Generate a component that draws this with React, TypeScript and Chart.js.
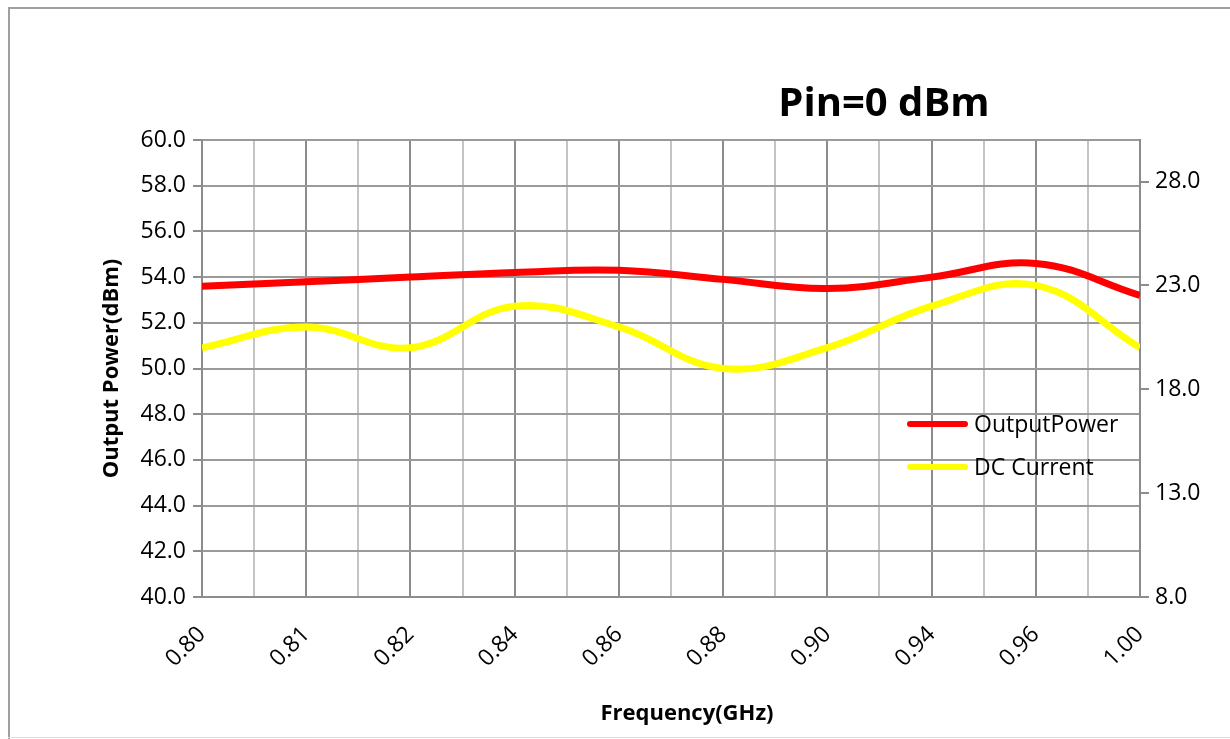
import React, { useEffect, useRef } from "react";
import { Chart, registerables } from "chart.js";

Chart.register(...registerables);

const freqLabels = ["0.80", "0.81", "0.82", "0.84", "0.86", "0.88", "0.90", "0.94", "0.96", "1.00"];
const outputPower = [53.6, 53.8, 54.0, 54.2, 54.3, 53.9, 53.5, 54.0, 54.6, 53.2];
const dcCurrent = [20, 21, 20, 22, 21, 19, 20, 22, 23, 20];
const leftTicks = [40, 42, 44, 46, 48, 50, 52, 54, 56, 58, 60];
const rightTicks = [8, 13, 18, 23, 28];
const titleText = "Pin=0 dBm";
const xTitleText = "Frequency(GHz)";

const FONT = "'Open Sans', 'Noto Sans', sans-serif";

export default function App() {
  const ref = useRef<HTMLCanvasElement | null>(null);

  useEffect(() => {
    if (!ref.current) return;

    const framePlugin = {
      id: "frame",
      beforeDraw(chart: any) {
        const { ctx, width, height } = chart;
        ctx.save();
        ctx.fillStyle = "#ffffff";
        ctx.fillRect(0, 0, width, height);
        ctx.strokeStyle = "#a0a0a0";
        ctx.lineWidth = 2;
        ctx.beginPath();
        ctx.moveTo(1, height);
        ctx.lineTo(1, 1);
        ctx.lineTo(width, 1);
        ctx.stroke();
        ctx.strokeStyle = "#dddddd";
        ctx.lineWidth = 1;
        ctx.beginPath();
        ctx.moveTo(0, height - 1.5);
        ctx.lineTo(width, height - 1.5);
        ctx.stroke();
        ctx.restore();
      },
    };

    const overlayPlugin = {
      id: "overlay",
      afterDraw(chart: any) {
        const { ctx, chartArea } = chart;
        ctx.save();
        // title
        ctx.fillStyle = "#000000";
        ctx.font = `bold 40px ${FONT}`;
        ctx.textAlign = "center";
        ctx.textBaseline = "middle";
        ctx.fillText(titleText, chartArea.left + (chartArea.right - chartArea.left) * 0.727, chartArea.top - 35);
        // x axis title
        ctx.font = `bold 22px ${FONT}`;
        ctx.fillText(xTitleText, (chartArea.left + chartArea.right) / 2 + 16, chartArea.bottom + 117);
        // legend
        const items = chart.data.datasets;
        const x0 = chartArea.right - 230;
        const yStart = chartArea.top + 284;
        items.forEach((ds: any, i: number) => {
          const y = yStart + i * 43;
          ctx.strokeStyle = ds.borderColor;
          ctx.lineWidth = 6;
          ctx.lineCap = "round";
          ctx.beginPath();
          ctx.moveTo(x0, y);
          ctx.lineTo(x0 + 55, y);
          ctx.stroke();
          ctx.fillStyle = "#000000";
          ctx.font = `23px ${FONT}`;
          ctx.textAlign = "left";
          ctx.textBaseline = "middle";
          ctx.fillText(ds.label, x0 + 64, y + 1);
        });
        ctx.restore();
      },
    };

    const chart = new Chart(ref.current, {
      type: "line",
      data: {
        datasets: [
          {
            label: "OutputPower",
            data: outputPower.map((v, i) => ({ x: i, y: v })),
            borderColor: "#ff0000",
            borderWidth: 7,
            pointRadius: 0,
            tension: 0.4,
            yAxisID: "y",
            fill: false,
          },
          {
            label: "DC Current",
            data: dcCurrent.map((v, i) => ({ x: i, y: v })),
            borderColor: "#ffff00",
            borderWidth: 7,
            pointRadius: 0,
            tension: 0.4,
            yAxisID: "y1",
            fill: false,
          },
        ],
      },
      options: {
        animation: false,
        responsive: true,
        maintainAspectRatio: false,
        layout: { padding: { top: 133, left: 0, right: 0, bottom: 0 } },
        plugins: {
          legend: { display: false },
          title: { display: false },
          tooltip: { enabled: false },
        },
        scales: {
          x: {
            type: "linear",
            min: 0,
            max: freqLabels.length - 1,
            afterBuildTicks(scale: any) {
              const t: any[] = [];
              for (let i = 0; i <= (freqLabels.length - 1) * 2; i++) t.push({ value: i / 2 });
              scale.ticks = t;
            },
            afterFit(scale: any) {
              scale.height = 142;
            },
            ticks: {
              autoSkip: false,
              maxRotation: 45,
              minRotation: 45,
              padding: 18,
              color: "#000000",
              font: { family: FONT, size: 23 },
              callback(value: any) {
                const v = Number(value);
                return Number.isInteger(v) ? freqLabels[v] : "";
              },
            },
            grid: {
              color: (c: any) => (c.index % 2 === 0 ? "#8c8c8c" : "#c4c4c4"),
              lineWidth: 2,
              tickLength: 6,
              tickColor: "rgba(0,0,0,0)",
            },
            border: { display: true, color: "#8c8c8c", width: 2 },
            title: { display: false },
          },
          y: {
            type: "linear",
            position: "left",
            min: 40,
            max: 60,
            afterBuildTicks(scale: any) {
              scale.ticks = leftTicks.map((v) => ({ value: v }));
            },
            afterFit(scale: any) {
              scale.width = 194;
            },
            ticks: {
              padding: 7,
              color: "#000000",
              font: { family: FONT, size: 23 },
              callback: (v: any) => Number(v).toFixed(1),
            },
            grid: {
              color: "#9a9a9a",
              lineWidth: 2,
              tickLength: 9,
              tickColor: "#8c8c8c",
            },
            border: { display: true, color: "#8c8c8c", width: 2 },
            title: {
              display: true,
              text: "Output Power(dBm)",
              color: "#000000",
              font: { family: FONT, size: 22, weight: "bold" },
              padding: { top: 91, bottom: 0 },
            },
          },
          y1: {
            type: "linear",
            position: "right",
            min: 8,
            max: 30,
            afterBuildTicks(scale: any) {
              scale.ticks = rightTicks.map((v) => ({ value: v }));
            },
            afterFit(scale: any) {
              scale.width = 90;
            },
            ticks: {
              padding: 6,
              color: "#000000",
              font: { family: FONT, size: 23 },
              callback: (v: any) => Number(v).toFixed(1),
            },
            grid: {
              drawOnChartArea: false,
              lineWidth: 2,
              tickLength: 9,
              tickColor: "#8c8c8c",
            },
            border: { display: true, color: "#8c8c8c", width: 2 },
          },
        },
      },
      plugins: [framePlugin, overlayPlugin],
    } as any);

    return () => chart.destroy();
  }, []);

  return (
    <div style={{ position: "absolute", left: 8, top: 7, width: 1222, height: 732 }}>
      <canvas ref={ref} />
    </div>
  );
}
